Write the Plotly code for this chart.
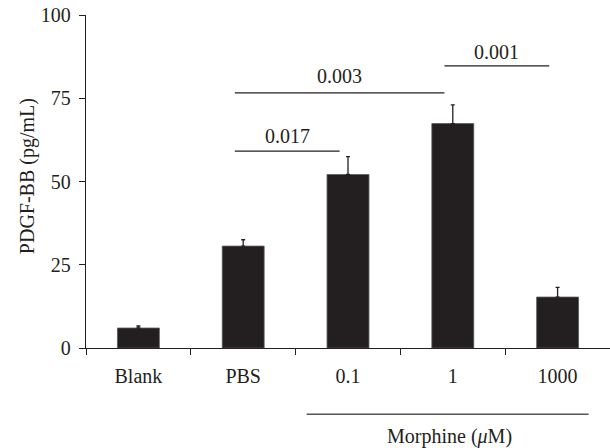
import plotly.graph_objects as go

# ---- data ----
categories = ["Blank", "PBS", "0.1", "1", "1000"]
values = [6.0, 30.6, 52.1, 67.4, 15.3]
errors = [0.6, 1.9, 5.4, 5.6, 2.9]
y_ticks = [0, 25, 50, 75, 100]

p_labels = ["0.017", "0.003", "0.001"]
p_from = ["PBS", "PBS", "1"]
p_to = ["0.1", "1", "1000"]
p_levels = [59.1, 76.6, 84.7]
p_text_levels = [63.6, 81.7, 88.9]

y_title = "PDGF-BB (pg/mL)"
group_label = "Morphine (<i>μ</i>M)"
group_from = "0.1"
group_to = "1000"

FONT = "Liberation Serif"
FS = 20
INK = "#231f20"

fig = go.Figure()
fig.add_trace(go.Bar(
    x=categories, y=values, width=0.4,
    marker=dict(color=INK, line=dict(color="#5a5a5a", width=0.8)),
    error_y=dict(type="data", symmetric=False, array=errors,
                 arrayminus=[0] * len(errors),
                 color=INK, thickness=1.3, width=2),
))

idx = {c: i for i, c in enumerate(categories)}
shift = -0.08
for lab, a, b, lv, tl in zip(p_labels, p_from, p_to, p_levels, p_text_levels):
    x0 = idx[a] + shift
    x1 = idx[b] + shift
    fig.add_shape(type="line", xref="x", yref="y", x0=x0, x1=x1, y0=lv, y1=lv,
                  line=dict(color=INK, width=1.3))
    fig.add_annotation(x=(x0 + x1) / 2, y=tl, xref="x", yref="y", text=lab,
                       showarrow=False, xanchor="center", yanchor="middle",
                       font=dict(family=FONT, size=FS, color=INK))

# Morphine group bracket below the axis
gx0 = idx[group_from] - 0.395
gx1 = idx[group_to] + 0.296
fig.add_shape(type="line", xref="x", yref="paper", x0=gx0, x1=gx1,
              y0=-0.199, y1=-0.199, line=dict(color="#555555", width=1.3))
fig.add_annotation(x=(gx0 + gx1) / 2 + 0.02, y=-0.2645, xref="x", yref="paper",
                   text=group_label, showarrow=False, xanchor="center",
                   yanchor="middle", font=dict(family=FONT, size=FS, color=INK))

# y-axis title
fig.add_annotation(x=-0.1126, y=0.516, xref="paper", yref="paper",
                   text=y_title, textangle=-90, showarrow=False,
                   xanchor="center", yanchor="middle",
                   font=dict(family=FONT, size=FS, color=INK))

fig.update_layout(
    width=610, height=448,
    margin=dict(l=86, r=0, t=15, b=100),
    paper_bgcolor="white", plot_bgcolor="white",
    showlegend=False,
    font=dict(family=FONT, size=FS, color=INK),
    xaxis=dict(
        type="category", range=[-0.5, 4.5],
        showline=True, linecolor=INK, linewidth=1.3,
        ticks="outside", tickson="boundaries", ticklen=6, tickwidth=1.3,
        tickcolor=INK, showgrid=False, zeroline=False,
        tickfont=dict(family=FONT, size=FS, color=INK),
        ticklabelstandoff=10,
    ),
    yaxis=dict(
        range=[0, 100], tickvals=y_ticks,
        showline=True, linecolor=INK, linewidth=1.3,
        ticks="outside", ticklen=6, tickwidth=1.3, tickcolor=INK,
        showgrid=False, zeroline=False,
        tickfont=dict(family=FONT, size=FS, color=INK),
        ticklabelstandoff=4,
    ),
)

fig.write_html(
    "out.html",
    config={"displayModeBar": False},
    post_script="document.body.style.margin='0';document.body.style.overflow='hidden';",
)
